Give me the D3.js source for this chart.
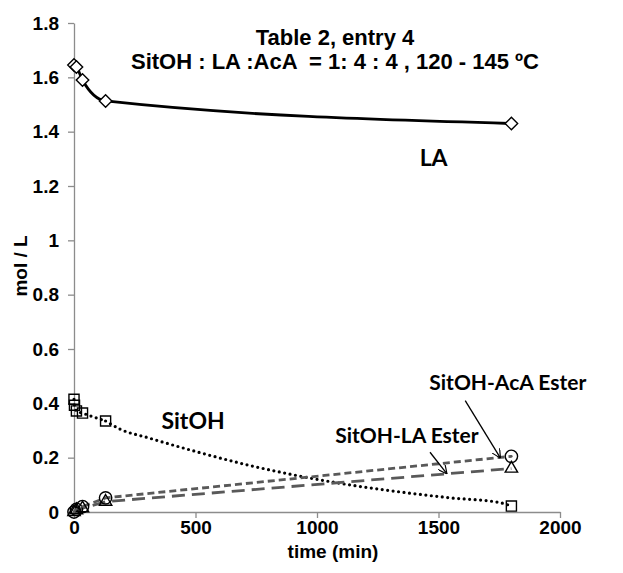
<!DOCTYPE html>
<html>
<head>
<meta charset="utf-8">
<script src="https://cdn.jsdelivr.net/npm/d3@7"></script>
<style>
  body { margin: 0; background: #fff; }
</style>
</head>
<body>
<div id="chart"></div>
<script>
// measured points (time in min, mol / L)
var laTime = [0, 10, 35, 130, 1800];
var laConc = [1.645, 1.638, 1.59, 1.513, 1.43];

var sitohTime = [0, 2, 10, 35, 130, 1800];
var sitohConc = [0.415, 0.393, 0.372, 0.364, 0.335, 0.022];

// dotted SitOH curve
var sitohCurveTime = [130, 190, 310, 520, 720, 930, 1140, 1340, 1550, 1750, 1800];
var sitohCurveConc = [0.335, 0.305, 0.272, 0.218, 0.172, 0.132, 0.099, 0.074, 0.052, 0.035, 0.022];

var esterTime = [0, 10, 35, 130, 1800];
var acaEsterConc = [0, 0.01, 0.02, 0.052, 0.205];
var laEsterConc = [0, 0.007, 0.014, 0.038, 0.16];

var xTicks = [0, 500, 1000, 1500, 2000];
var yTicks = [0, 0.2, 0.4, 0.6, 0.8, 1, 1.2, 1.4, 1.6, 1.8];

var width = 623, height = 573;
var margin = {top: 23, right: 63, bottom: 61, left: 74};

var svg = d3.select('#chart').append('svg')
    .attr('width', width)
    .attr('height', height);

var x = d3.scaleLinear()
    .domain([0, 2000])
    .range([margin.left, width - margin.right]);

var y = d3.scaleLinear()
    .domain([0, 1.8])
    .range([height - margin.bottom, margin.top]);

var axisColor = '#8c8c8c';
var tickFont = '"Liberation Sans", Arial, sans-serif';
var noteFont = 'Lato, "Open Sans", sans-serif';

// axes
var gx = svg.append('g')
    .attr('transform', `translate(0, ${y(0)})`)
    .call(d3.axisBottom(x).tickValues(xTicks).tickSize(6).tickSizeOuter(0).tickPadding(3)
        .tickFormat(d3.format('d')));

var gy = svg.append('g')
    .attr('transform', `translate(${x(0)}, 0)`)
    .call(d3.axisLeft(y).tickValues(yTicks).tickSize(6).tickSizeOuter(0).tickPadding(9)
        .tickFormat(d => String(+d.toFixed(1))));

[gx, gy].forEach(function(g) {
    g.selectAll('path, line')
        .attr('stroke', axisColor)
        .attr('stroke-width', 1.3);
    g.selectAll('text')
        .attr('font-family', tickFont)
        .attr('font-size', '19px')
        .attr('font-weight', 'bold')
        .attr('fill', '#000');
});

// axis titles
svg.append('text')
    .attr('x', 333)
    .attr('y', 558)
    .attr('text-anchor', 'middle')
    .attr('font-family', tickFont)
    .attr('font-size', '19px')
    .attr('font-weight', 'bold')
    .text('time (min)');

svg.append('text')
    .attr('transform', 'translate(27, 266) rotate(-90)')
    .attr('text-anchor', 'middle')
    .attr('font-family', tickFont)
    .attr('font-size', '19px')
    .attr('font-weight', 'bold')
    .text('mol / L');

// chart title
var title = svg.append('text')
    .attr('text-anchor', 'middle')
    .attr('font-family', tickFont)
    .attr('font-size', '22px')
    .attr('font-weight', 'bold');
title.append('tspan').attr('x', 335).attr('y', 45).text('Table 2, entry 4');
title.append('tspan').attr('x', 335).attr('y', 69)
    .style('white-space', 'pre')
    .text('SitOH : LA :AcA  = 1: 4 : 4 , 120 - 145 ºC');

// lines
function pts(ts, vs) { return ts.map((t, i) => [t, vs[i]]); }

var smooth = d3.line()
    .x(d => x(d[0]))
    .y(d => y(d[1]))
    .curve(d3.curveMonotoneX);

var straight = d3.line()
    .x(d => x(d[0]))
    .y(d => y(d[1]));

function dotted(data) {
    svg.append('path')
        .attr('d', smooth(data))
        .attr('fill', 'none')
        .attr('stroke', '#000')
        .attr('stroke-width', 3.2)
        .attr('stroke-linecap', 'round')
        .attr('stroke-dasharray', '0,5.5');
}
dotted(pts(sitohTime.slice(0, 5), sitohConc.slice(0, 5)));
dotted(pts(sitohCurveTime, sitohCurveConc));

svg.append('path')
    .attr('d', straight(pts(esterTime, acaEsterConc)))
    .attr('fill', 'none')
    .attr('stroke', '#595959')
    .attr('stroke-width', 2.8)
    .attr('stroke-dasharray', '7,4');

svg.append('path')
    .attr('d', straight(pts(esterTime, laEsterConc)))
    .attr('fill', 'none')
    .attr('stroke', '#595959')
    .attr('stroke-width', 2.8)
    .attr('stroke-dasharray', '13,7');

svg.append('path')
    .attr('d', smooth(pts(laTime, laConc)))
    .attr('fill', 'none')
    .attr('stroke', '#000')
    .attr('stroke-width', 2.8);

// markers
function markers(ts, vs, type, size, fill) {
    svg.append('g').selectAll('path')
        .data(pts(ts, vs))
        .join('path')
        .attr('transform', d => `translate(${x(d[0])}, ${y(d[1])})`)
        .attr('d', d3.symbol(type, size))
        .attr('fill', fill)
        .attr('stroke', '#000')
        .attr('stroke-width', 1.4);
}

markers(laTime, laConc, d3.symbolDiamond2, 100, '#fff');
markers(sitohTime, sitohConc, d3.symbolSquare2, 130, 'none');
markers(esterTime, acaEsterConc, d3.symbolCircle, 120, 'none');
markers(esterTime, laEsterConc, d3.symbolTriangle2, 110, 'none');

// dots inside the circles
svg.append('g').selectAll('circle')
    .data(pts(esterTime, acaEsterConc))
    .join('circle')
    .attr('cx', d => x(d[0]))
    .attr('cy', d => y(d[1]))
    .attr('r', 1.2)
    .attr('fill', '#595959');

// labels and arrows
var notes = [
    {text: 'LA', t: 1480, v: 1.305, size: 23},
    {text: 'SitOH', t: 490, v: 0.335, size: 23},
    {text: 'SitOH-LA Ester', t: 1370, v: 0.28, size: 21},
    {text: 'SitOH-AcA Ester', t: 1785, v: 0.475, size: 21}
];

svg.append('g').selectAll('text')
    .data(notes)
    .join('text')
    .attr('x', d => x(d.t))
    .attr('y', d => y(d.v))
    .attr('dy', '0.35em')
    .attr('text-anchor', 'middle')
    .attr('font-family', noteFont)
    .attr('font-size', d => d.size + 'px')
    .attr('font-weight', 'bold')
    .text(d => d.text);

var arrows = [
    {t0: 1610, v0: 0.41, t1: 1755, v1: 0.198},
    {t0: 1465, v0: 0.22, t1: 1535, v1: 0.14}
];

svg.append('defs').append('marker')
    .attr('id', 'head')
    .attr('viewBox', '0 0 10 10')
    .attr('refX', 10)
    .attr('refY', 5)
    .attr('markerWidth', 9)
    .attr('markerHeight', 9)
    .attr('markerUnits', 'userSpaceOnUse')
    .attr('orient', 'auto')
    .append('path')
    .attr('d', 'M0,0 L10,5 L0,10')
    .attr('fill', 'none')
    .attr('stroke', '#000')
    .attr('stroke-width', 1.3);

svg.append('g').selectAll('line')
    .data(arrows)
    .join('line')
    .attr('x1', d => x(d.t0))
    .attr('y1', d => y(d.v0))
    .attr('x2', d => x(d.t1))
    .attr('y2', d => y(d.v1))
    .attr('stroke', '#000')
    .attr('stroke-width', 1.3)
    .attr('marker-end', 'url(#head)');
</script>
</body>
</html>
